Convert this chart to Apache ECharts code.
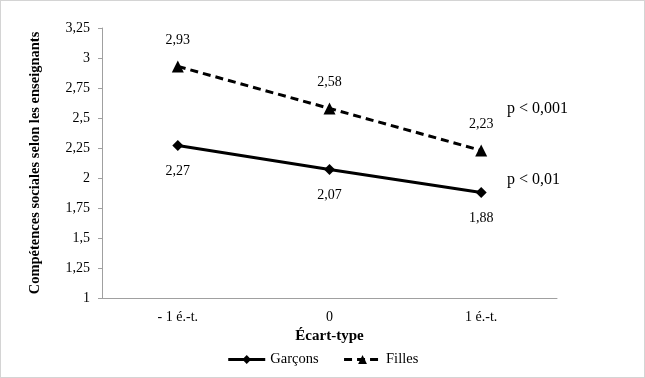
<!DOCTYPE html>
<html>
<head>
<meta charset="utf-8">
<script src="https://cdn.jsdelivr.net/npm/echarts@6/dist/echarts.min.js"></script>
<style>
  html, body { margin: 0; padding: 0; background: #fff; }
  #chart { width: 645px; height: 378px; box-sizing: border-box; border: 1px solid #d4d4d4; }
</style>
</head>
<body>
<div id="chart"></div>
<script>
  // categories and values
  const categories = ['- 1 é.-t.', '0', '1 é.-t.'];
  const garcons = [2.27, 2.07, 1.88];
  const filles = [2.93, 2.58, 2.23];
  const yTicks = { min: 1, max: 3.25, interval: 0.25 };

  const fmt = v => String(v).replace('.', ',');
  const font = 'Liberation Serif';

  const chart = echarts.init(document.getElementById('chart'));
  const option = {
    textStyle: { fontFamily: font, color: '#000' },
    grid: { left: 101, right: 87, top: 27, bottom: 79 },
    xAxis: {
      type: 'category',
      data: categories,
      boundaryGap: true,
      name: 'Écart-type',
      nameLocation: 'middle',
      nameGap: 26,
      nameTextStyle: { fontFamily: font, fontWeight: 'bold', fontSize: 15, color: '#000' },
      axisLine: { lineStyle: { color: '#a0a0a0' } },
      axisTick: { length: 5, lineStyle: { color: '#a0a0a0' } },
      axisLabel: { fontFamily: font, fontSize: 14, color: '#000', margin: 12 }
    },
    yAxis: {
      type: 'value',
      min: yTicks.min,
      max: yTicks.max,
      interval: yTicks.interval,
      name: 'Compétences sociales selon les enseignants',
      nameLocation: 'middle',
      nameRotate: 90,
      nameGap: 59,
      nameTextStyle: { fontFamily: font, fontWeight: 'bold', fontSize: 14.5, color: '#000' },
      axisLine: { show: true, lineStyle: { color: '#a0a0a0' } },
      axisTick: { show: true, length: 4, lineStyle: { color: '#a0a0a0' } },
      splitLine: { show: false },
      axisLabel: { fontFamily: font, fontSize: 14, color: '#000', margin: 12, formatter: fmt }
    },
    legend: {
      bottom: 5,
      left: 'center',
      itemWidth: 37,
      itemHeight: 11,
      itemGap: 24,
      lineStyle: { width: 3 },
      textStyle: { fontFamily: font, fontSize: 14.5, color: '#000' },
      data: ['Garçons', 'Filles']
    },
    series: [
      {
        name: 'Garçons',
        type: 'line',
        data: garcons,
        symbol: 'diamond',
        symbolSize: 11,
        itemStyle: { color: '#000' },
        lineStyle: { color: '#000', width: 3 },
        label: { show: true, position: 'bottom', distance: 13, fontFamily: font, fontSize: 14, color: '#000', formatter: p => fmt(p.value) }
      },
      {
        name: 'Filles',
        type: 'line',
        data: filles,
        symbol: 'triangle',
        symbolSize: 12,
        itemStyle: { color: '#000' },
        lineStyle: { color: '#000', width: 3, type: [8, 5] },
        label: { show: true, position: 'top', distance: 13, fontFamily: font, fontSize: 14, color: '#000', formatter: p => fmt(p.value) }
      }
    ],
    graphic: [
      { type: 'text', left: 506, top: 100, style: { text: 'p < 0,001', font: '16px "Liberation Serif"', fill: '#000' } },
      { type: 'text', left: 506, top: 171, style: { text: 'p < 0,01', font: '16px "Liberation Serif"', fill: '#000' } }
    ]
  };
  chart.setOption(option);
</script>
</body>
</html>
